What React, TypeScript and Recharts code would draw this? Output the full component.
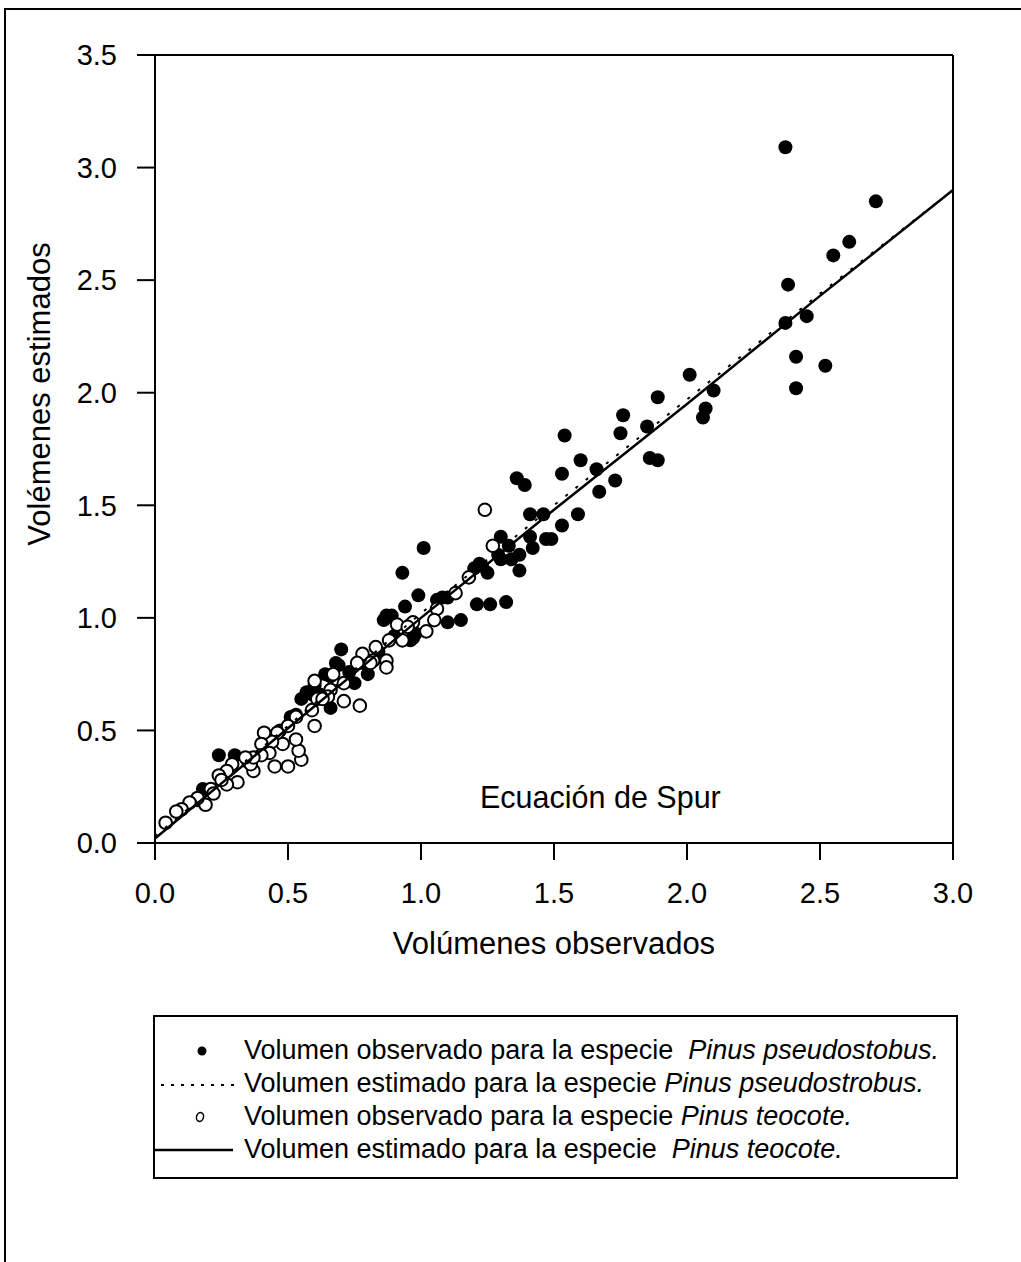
import React from 'react';
import { ScatterChart, Scatter, XAxis, YAxis, ReferenceLine } from 'recharts';

const FONT = '"Liberation Sans", Arial, Helvetica, sans-serif';

const xTicks = [0, 0.5, 1, 1.5, 2, 2.5, 3];
const yTicks = [0, 0.5, 1, 1.5, 2, 2.5, 3, 3.5];

// Observed volume (x) vs. volume estimated by Spurr's equation (y), Pinus pseudostrobus
const pseudostrobusObserved: [number, number][] = [
  [2.37, 3.09], [2.71, 2.85], [2.61, 2.67], [2.55, 2.61], [2.38, 2.48], [2.45, 2.34],
  [2.37, 2.31], [2.41, 2.16], [2.52, 2.12], [2.41, 2.02], [2.01, 2.08], [2.10, 2.01],
  [2.07, 1.93], [2.06, 1.89], [1.89, 1.98], [1.76, 1.90], [1.75, 1.82], [1.54, 1.81],
  [1.85, 1.85], [1.86, 1.71], [1.89, 1.70], [1.60, 1.70], [1.36, 1.62], [1.39, 1.59],
  [1.53, 1.64], [1.66, 1.66], [1.73, 1.61], [1.67, 1.56], [1.41, 1.46], [1.46, 1.46],
  [1.59, 1.46], [1.53, 1.41], [1.47, 1.35], [1.49, 1.35], [1.42, 1.31], [1.30, 1.36],
  [1.33, 1.32], [1.01, 1.31], [0.93, 1.20], [1.37, 1.28], [1.34, 1.26], [1.30, 1.26],
  [1.37, 1.21], [1.29, 1.28], [1.22, 1.24], [1.20, 1.22], [1.23, 1.23], [1.25, 1.20],
  [1.21, 1.06], [1.26, 1.06], [1.32, 1.07], [0.99, 1.10], [0.94, 1.05], [1.08, 1.09],
  [1.10, 1.09], [1.10, 0.98], [1.15, 0.99], [0.87, 1.01], [0.89, 1.01], [0.96, 0.97],
  [0.98, 0.93], [0.96, 0.90], [0.86, 0.99], [0.70, 0.86], [0.69, 0.79], [0.80, 0.75],
  [0.64, 0.75], [0.66, 0.60], [0.55, 0.64], [0.59, 0.66], [0.51, 0.56], [0.75, 0.71],
  [0.97, 0.91], [0.68, 0.80], [0.60, 0.70], [0.57, 0.67], [0.24, 0.39], [0.30, 0.39],
  [0.18, 0.24], [0.16, 0.19], [0.35, 0.36], [0.42, 0.42], [0.47, 0.50], [0.53, 0.57],
  [0.62, 0.66], [0.66, 0.74], [0.73, 0.76], [0.78, 0.80], [0.84, 0.85], [0.90, 0.92],
  [1.06, 1.08], [1.41, 1.36],
];

// Observed vs. estimated volume, Pinus teocote
const teocoteObserved: [number, number][] = [
  [1.24, 1.48], [1.27, 1.32], [1.18, 1.18], [1.13, 1.11], [1.06, 1.04], [1.05, 0.99],
  [1.02, 0.94], [0.97, 0.98], [0.91, 0.97], [0.93, 0.90], [0.88, 0.90], [0.83, 0.87],
  [0.78, 0.84], [0.82, 0.81], [0.81, 0.80], [0.87, 0.81], [0.87, 0.78], [0.76, 0.80],
  [0.67, 0.75], [0.71, 0.71], [0.60, 0.72], [0.66, 0.68], [0.65, 0.65], [0.77, 0.61],
  [0.71, 0.63], [0.61, 0.64], [0.63, 0.64], [0.60, 0.52], [0.59, 0.59], [0.53, 0.56],
  [0.50, 0.52], [0.55, 0.37], [0.54, 0.41], [0.53, 0.46], [0.48, 0.44], [0.50, 0.34],
  [0.45, 0.34], [0.46, 0.49], [0.44, 0.45], [0.43, 0.40], [0.41, 0.49], [0.40, 0.44],
  [0.40, 0.39], [0.37, 0.32], [0.36, 0.35], [0.37, 0.38], [0.34, 0.38], [0.29, 0.35],
  [0.31, 0.27], [0.27, 0.26], [0.27, 0.32], [0.24, 0.30], [0.21, 0.24], [0.19, 0.17],
  [0.16, 0.20], [0.13, 0.18], [0.10, 0.15], [0.08, 0.14], [0.04, 0.09], [0.22, 0.22],
  [0.25, 0.28], [0.95, 0.96],
];

// Fitted (estimated) volume curves
const pseudostrobusEstimated: [number, number][] = [
  [0, 0.03], [0.5, 0.52], [1, 1.02], [1.5, 1.5], [2, 1.97], [2.5, 2.44], [3, 2.9],
];
const teocoteEstimated: [number, number][] = [
  [0, 0.02], [0.5, 0.51], [1, 1.0], [1.5, 1.48], [2, 1.95], [2.5, 2.43], [3, 2.9],
];

const legendItems = [
  { key: 'pso', text: 'Volumen observado para la especie  ', species: 'Pinus pseudostobus.' },
  { key: 'pse', text: 'Volumen estimado para la especie ', species: 'Pinus pseudostrobus.' },
  { key: 'teo', text: 'Volumen observado para la especie ', species: 'Pinus teocote.' },
  { key: 'tee', text: 'Volumen estimado para la especie  ', species: 'Pinus teocote.' },
];

const toPoints = (arr: [number, number][]) => arr.map(([x, y]) => ({ x, y }));

const FilledDot = (p: any) => <circle cx={p.cx} cy={p.cy} r={7} fill="#000" />;
const OpenDot = (p: any) => (
  <circle cx={p.cx} cy={p.cy} r={6.3} fill="#fff" stroke="#000" strokeWidth={2} />
);
const NoDot = () => <g />;

const LegendIcon = ({ kind }: { kind: string }) => (
  <svg width={84} height={20} style={{ display: 'block' }}>
    {kind === 'pso' && <circle cx={47} cy={10} r={4.5} fill="#000" />}
    {kind === 'pse' && (
      <line x1={6} y1={11} x2={82} y2={11} stroke="#000" strokeWidth={2} strokeDasharray="3 7" />
    )}
    {kind === 'teo' && (
      <ellipse cx={45} cy={10} rx={3.5} ry={4.5} fill="#fff" stroke="#000" strokeWidth={1.5} transform="rotate(15 45 10)" />
    )}
    {kind === 'tee' && <line x1={0} y1={10} x2={78} y2={10} stroke="#000" strokeWidth={2.5} />}
  </svg>
);

export default function App() {
  const tickStyle = { fill: '#000', fontSize: 29, fontFamily: FONT };
  const axisStroke = { stroke: '#000', strokeWidth: 2 };

  return (
    <div
      style={{
        position: 'absolute',
        left: 0,
        top: 0,
        width: 1021,
        height: 1262,
        overflow: 'hidden',
        background: '#fff',
        fontFamily: FONT,
      }}
    >
      <style>{'html, body { overflow: hidden; }'}</style>
      <div style={{ position: 'absolute', left: 0, top: 0 }}>
        <ScatterChart
          width={1021}
          height={1262}
          margin={{ top: 55, right: 68, bottom: 359, left: 85 }}
        >
          <XAxis
            type="number"
            dataKey="x"
            domain={[0, 3]}
            ticks={xTicks}
            tickFormatter={(v: number) => v.toFixed(1)}
            height={60}
            tick={tickStyle}
            tickSize={17}
            tickMargin={22}
            axisLine={axisStroke}
            tickLine={axisStroke}
            label={{
              content: () => (
                <text x={554} y={954} textAnchor="middle" fontSize={31} fontFamily={FONT} fill="#000">
                  Volúmenes observados
                </text>
              ),
            }}
          />
          <YAxis
            type="number"
            dataKey="y"
            domain={[0, 3.5]}
            ticks={yTicks}
            tickFormatter={(v: number) => v.toFixed(1)}
            width={70}
            tick={tickStyle}
            tickSize={18}
            tickMargin={20}
            axisLine={axisStroke}
            tickLine={axisStroke}
            label={{
              content: () => (
                <text
                  x={50}
                  y={394}
                  transform="rotate(-90 50 394)"
                  textAnchor="middle"
                  fontSize={31}
                  fontFamily={FONT}
                  fill="#000"
                >
                  Volémenes estimados
                </text>
              ),
            }}
          />
          <ReferenceLine y={3.5} stroke="#000" strokeWidth={2} />
          <ReferenceLine x={3} stroke="#000" strokeWidth={2} />
          <Scatter
            name="Volumen observado para la especie Pinus pseudostobus."
            data={toPoints(pseudostrobusObserved)}
            shape={FilledDot}
            isAnimationActive={false}
          />
          <Scatter
            name="Volumen observado para la especie Pinus teocote."
            data={toPoints(teocoteObserved)}
            shape={OpenDot}
            isAnimationActive={false}
          />
          <Scatter
            name="Volumen estimado para la especie Pinus pseudostrobus."
            data={toPoints(pseudostrobusEstimated)}
            shape={NoDot}
            line={{ stroke: '#000', strokeWidth: 2, strokeDasharray: '3 10' }}
            isAnimationActive={false}
          />
          <Scatter
            name="Volumen estimado para la especie Pinus teocote."
            data={toPoints(teocoteEstimated)}
            shape={NoDot}
            line={{ stroke: '#000', strokeWidth: 2.5 }}
            isAnimationActive={false}
          />
        </ScatterChart>
      </div>

      {/* equation annotation */}
      <div
        style={{
          position: 'absolute',
          left: 480,
          top: 782,
          fontSize: 30.5,
          lineHeight: '30px',
          whiteSpace: 'pre',
          color: '#000',
        }}
      >
        Ecuación de Spur
      </div>

      {/* legend */}
      <div
        style={{
          position: 'absolute',
          left: 153,
          top: 1015,
          width: 805,
          height: 164,
          border: '2px solid #000',
          boxSizing: 'border-box',
          fontSize: 27,
          color: '#000',
        }}
      >
        {legendItems.map((it, i) => (
          <div
            key={it.key}
            style={{
              position: 'absolute',
              left: 0,
              top: 17 + i * 33,
              height: 33,
              display: 'flex',
              alignItems: 'center',
              whiteSpace: 'pre',
              lineHeight: '33px',
            }}
          >
            <div style={{ width: 89 }}>
              <LegendIcon kind={it.key} />
            </div>
            <span>
              {it.text}
              <i>{it.species}</i>
            </span>
          </div>
        ))}
      </div>

      {/* page frame (left and top edges) */}
      <svg
        width={1021}
        height={1262}
        style={{ position: 'absolute', left: 0, top: 0, pointerEvents: 'none' }}
      >
        <line x1={5} y1={9} x2={5} y2={1262} stroke="#000" strokeWidth={2} />
        <line x1={4} y1={9} x2={1021} y2={9} stroke="#000" strokeWidth={2} />
      </svg>
    </div>
  );
}
